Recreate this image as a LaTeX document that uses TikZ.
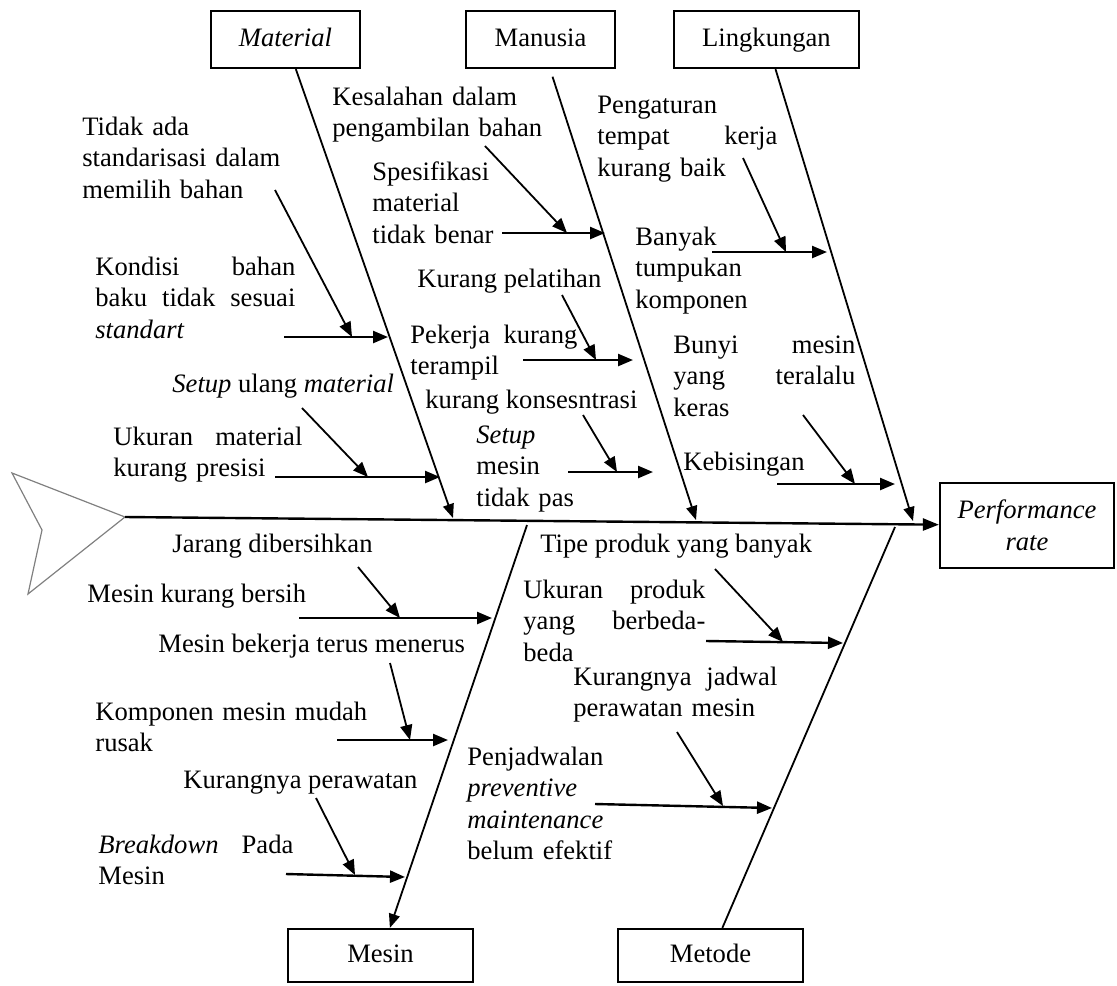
\documentclass[tikz,border=0pt]{standalone}
\usepackage{fontspec}
\setmainfont{Liberation Serif}
\usetikzlibrary{arrows.meta,positioning}
\newcommand{\jline}[2]{\makebox[#1][l]{#2}}

\begin{document}
\begin{tikzpicture}[x=0.5pt, y=-0.5pt,
  font=\fontsize{13.3}{15.8}\selectfont,
  box/.style={draw, line width=1.1pt, inner sep=0pt},
  cat/.style={box, text height=9.5pt, text depth=3pt},
  bone/.style={line width=0.9pt, -{Triangle[length=7pt,width=5.5pt]}},
  spine/.style={line width=1.2pt, -{Triangle[length=8pt,width=6pt]}},
  harr/.style={line width=1.2pt, -{Triangle[length=7.5pt,width=6pt]}},
  sarr/.style={line width=0.9pt, -{Triangle[length=7.5pt,width=6pt]}},
  cause/.style={anchor=base west, inner sep=0pt, align=left}]
  \useasboundingbox (0,0) rectangle (1117,985);

  % Effect box
  \node[box, minimum width=87pt, minimum height=42.5pt, align=center] (perf) at (1027,525.5) {\textit{Performance}\\\textit{rate}};
  % Category boxes
  \node[cat, minimum width=74.5pt, minimum height=28.5pt] (mat) at (285.5,39.5) {\textit{Material}};
  \node[cat, minimum width=74.5pt, minimum height=28.5pt] (man) at (540.5,39.5) {Manusia};
  \node[cat, minimum width=92.5pt, minimum height=28.5pt] (ling) at (766.5,39.5) {Lingkungan};
  \node[cat, minimum width=92.5pt, minimum height=26.5pt] (mes) at (380.5,955.5) {Mesin};
  \node[cat, minimum width=92.5pt, minimum height=26.5pt] (met) at (710.5,955.5) {Metode};

  % Tail and spine
  \coordinate (tail) at (125,517);
  \draw[gray, line width=0.6pt] (tail) -- (12,473) -- (42,530) -- (28,594) -- cycle;
  \draw[spine] (tail) -- (perf);

  % Bones
  \coordinate (matEnd) at (453,518);
  \coordinate (manEnd) at (696,520);
  \coordinate (lingEnd) at (913,521);
  \coordinate (mesTop) at (527,525);
  \coordinate (metTop) at (895,527);
  \draw[bone] (mat) -- (matEnd);
  \draw[bone, shorten <=4pt] (man) -- (manEnd);
  \draw[bone] (ling) -- (lingEnd);
  \draw[bone] (mesTop) -- (mes);
  \draw[bone, -] (metTop) -- (met);

  % Material
  \node[cause, text width=110pt] (tidak) at (82,135) {Tidak ada\\standarisasi dalam\\memilih bahan};
  \node[cause, text width=100pt] (kondisi) at (95,275) {\jline{100pt}{Kondisi\hfill bahan}\\\jline{100pt}{baku\hfill tidak\hfill sesuai}\\\textit{standart}};
  \node[cause] (setupmat) at (172,392) {\textit{Setup} ulang \textit{material}};
  \node[cause, text width=95pt] (ukuranmat) at (113,445) {\jline{94.5pt}{Ukuran\hfill material}\\kurang presisi};
  \coordinate (kondisiA) at (284,337);
  \coordinate (kondisiB) at (388,337);
  \coordinate (tidakA) at (275,190);
  \coordinate (tidakB) at (352,337);
  \coordinate (ukuranmatA) at (275,477);
  \coordinate (ukuranmatB) at (440,477);
  \coordinate (setupmatA) at (302,408);
  \coordinate (setupmatB) at (368,477);
  \draw[harr] (kondisiA) -- (kondisiB);
  \draw[sarr] (tidakA) -- (tidakB);
  \draw[harr] (ukuranmatA) -- (ukuranmatB);
  \draw[sarr] (setupmatA) -- (setupmatB);

  % Manusia
  \node[cause, text width=110pt] (kesalahan) at (332,105) {Kesalahan dalam\\pengambilan bahan};
  \node[cause, text width=70pt] (spesifikasi) at (372,180) {Spesifikasi\\material\\tidak benar};
  \node[cause] (pelatihan) at (417,287) {Kurang pelatihan};
  \node[cause, text width=84pt] (pekerja) at (410,343) {\jline{83.5pt}{Pekerja\hfill kurang}\\terampil};
  \node[cause] (konsentrasi) at (425,408) {kurang konsesntrasi};
  \node[cause, text width=60pt] (setupmes) at (476,443) {\textit{Setup}\\mesin\\tidak pas};
  \coordinate (spesifikasiA) at (502,233);
  \coordinate (spesifikasiB) at (605,233);
  \coordinate (kesalahanA) at (485,146);
  \coordinate (kesalahanB) at (567,233);
  \coordinate (pekerjaA) at (523,360);
  \coordinate (pekerjaB) at (633,360);
  \coordinate (pelatihanA) at (562,295);
  \coordinate (pelatihanB) at (596,360);
  \coordinate (setupmesA) at (568,472);
  \coordinate (setupmesB) at (653,472);
  \coordinate (konsentrasiA) at (583,415);
  \coordinate (konsentrasiB) at (617,472);
  \draw[harr] (spesifikasiA) -- (spesifikasiB);
  \draw[sarr] (kesalahanA) -- (kesalahanB);
  \draw[harr] (pekerjaA) -- (pekerjaB);
  \draw[sarr] (pelatihanA) -- (pelatihanB);
  \draw[harr] (setupmesA) -- (setupmesB);
  \draw[sarr] (konsentrasiA) -- (konsentrasiB);

  % Lingkungan
  \node[cause, text width=90pt] (pengaturan) at (597,113) {Pengaturan\\\jline{90pt}{tempat\hfill kerja}\\kurang baik};
  \node[cause, text width=70pt] (banyak) at (635,245) {Banyak\\tumpukan\\komponen};
  \node[cause, text width=91pt] (bunyi) at (673,353) {\jline{91pt}{Bunyi\hfill mesin}\\\jline{91pt}{yang\hfill teralalu}\\keras};
  \node[cause] (bising) at (683,470) {Kebisingan};
  \coordinate (banyakA) at (712,252);
  \coordinate (banyakB) at (827,252);
  \coordinate (pengaturanA) at (743,158);
  \coordinate (pengaturanB) at (786,252);
  \coordinate (bisingA) at (777,484);
  \coordinate (bisingB) at (895,484);
  \coordinate (bunyiA) at (803,415);
  \coordinate (bunyiB) at (855,484);
  \draw[harr] (banyakA) -- (banyakB);
  \draw[sarr] (pengaturanA) -- (pengaturanB);
  \draw[harr] (bisingA) -- (bisingB);
  \draw[sarr] (bunyiA) -- (bunyiB);

  % Mesin
  \node[cause] (jarang) at (172,552) {Jarang dibersihkan};
  \node[cause] (bersih) at (87,602) {Mesin kurang bersih};
  \node[cause] (bekerja) at (158,652) {Mesin bekerja terus menerus};
  \node[cause, text width=140pt] (komponen) at (95,720) {Komponen mesin mudah\\rusak};
  \node[cause] (perawatan) at (183,788) {Kurangnya perawatan};
  \node[cause, text width=98pt] (breakdown) at (98,853) {\jline{97.5pt}{\textit{Breakdown}\hfill Pada}\\Mesin};
  \coordinate (bersihA) at (299,618);
  \coordinate (bersihB) at (492,618);
  \coordinate (jarangA) at (358,567);
  \coordinate (jarangB) at (400,618);
  \coordinate (komponenA) at (337,740);
  \coordinate (komponenB) at (448,740);
  \coordinate (bekerjaA) at (390,663);
  \coordinate (bekerjaB) at (410,740);
  \coordinate (breakdownA) at (286,874);
  \coordinate (breakdownB) at (405,877);
  \coordinate (perawatanA) at (316,798);
  \coordinate (perawatanB) at (355,875);
  \draw[harr] (bersihA) -- (bersihB);
  \draw[sarr] (jarangA) -- (jarangB);
  \draw[harr] (komponenA) -- (komponenB);
  \draw[sarr] (bekerjaA) -- (bekerjaB);
  \draw[harr] (breakdownA) -- (breakdownB);
  \draw[sarr] (perawatanA) -- (perawatanB);

  % Metode
  \node[cause] (tipe) at (540,552) {Tipe produk yang banyak};
  \node[cause, text width=91pt] (ukuranprod) at (523,598) {\jline{91pt}{Ukuran\hfill produk}\\\jline{91pt}{yang\hfill berbeda-}\\beda};
  \node[cause, text width=102pt] (jadwal) at (573,685) {\jline{102pt}{Kurangnya\hfill jadwal}\\perawatan mesin};
  \node[cause, text width=90pt] (penjadwalan) at (467,765) {Penjadwalan\\\textit{preventive}\\\textit{maintenance}\\belum efektif};
  \coordinate (ukuranprodA) at (706,641);
  \coordinate (ukuranprodB) at (843,643);
  \coordinate (tipeA) at (715,569);
  \coordinate (tipeB) at (783,642);
  \coordinate (penjadwalanA) at (595,804);
  \coordinate (penjadwalanB) at (772,808);
  \coordinate (jadwalA) at (677,732);
  \coordinate (jadwalB) at (723,806);
  \draw[harr] (ukuranprodA) -- (ukuranprodB);
  \draw[sarr] (tipeA) -- (tipeB);
  \draw[harr] (penjadwalanA) -- (penjadwalanB);
  \draw[sarr] (jadwalA) -- (jadwalB);
\end{tikzpicture}
\end{document}
